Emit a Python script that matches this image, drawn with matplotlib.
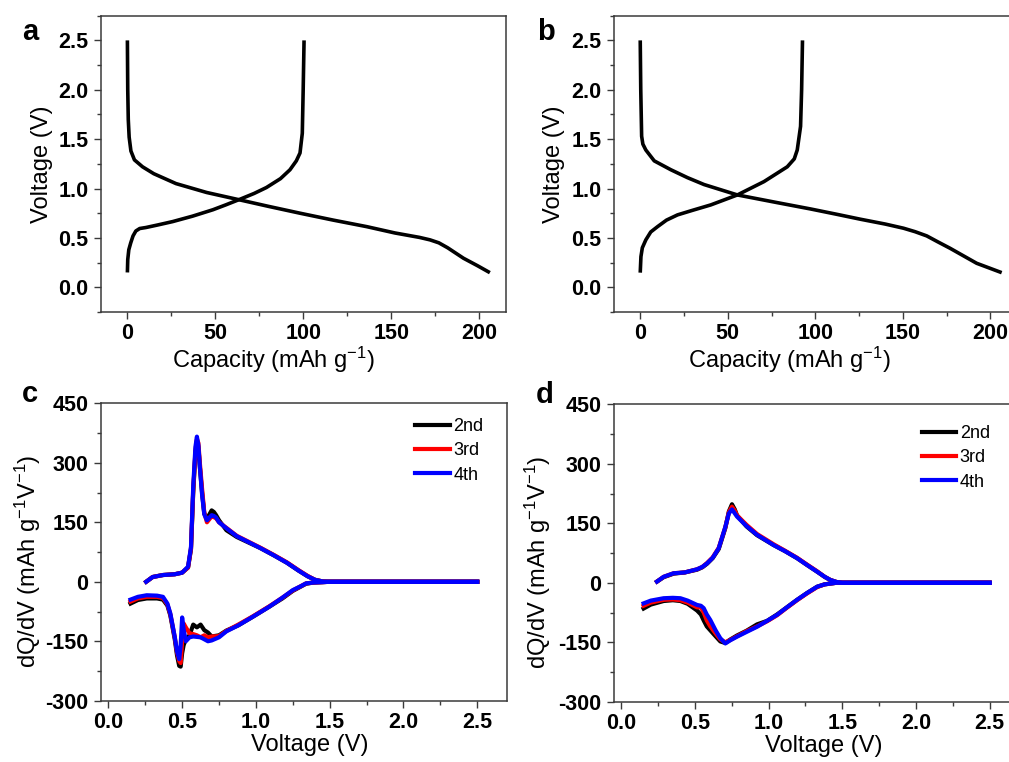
import matplotlib
matplotlib.use("Agg")
import matplotlib.pyplot as plt
from matplotlib.ticker import MultipleLocator

plt.rcParams['font.family'] = ['Liberation Sans', 'DejaVu Sans']
plt.rcParams['mathtext.fontset'] = 'custom'
plt.rcParams['mathtext.rm'] = 'Liberation Sans'
plt.rcParams['axes.unicode_minus'] = False

# --- panel a: charge / discharge profile ---
cap_a_dis = [0, 0.2, 0.5, 1.0, 2.0, 4.0, 8.6, 15, 27.6, 45, 63.8, 80, 98.1, 117, 136, 152, 166, 172, 177, 182, 191, 199, 206]
v_a_dis = [2.50, 2.0, 1.7, 1.52, 1.38, 1.29, 1.22, 1.15, 1.05, 0.96, 0.885, 0.82, 0.75, 0.68, 0.614, 0.55, 0.505, 0.48, 0.45, 0.40, 0.294, 0.218, 0.148]
cap_a_chg = [0, 0.2, 0.8, 1.9, 3.2, 4.8, 7, 10.5, 17, 25.7, 37, 48.6, 56, 63.8, 72, 79, 87, 92.4, 96, 98.1, 99.4, 99.9, 100.4]
v_a_chg = [0.15, 0.28, 0.38, 0.45, 0.52, 0.57, 0.595, 0.605, 0.63, 0.665, 0.72, 0.785, 0.835, 0.89, 0.95, 1.01, 1.10, 1.19, 1.28, 1.36, 1.56, 2.0, 2.5]

# --- panel b ---
cap_b_dis = [0, 0.3, 0.8, 1.5, 3.2, 8, 17.5, 27, 36.5, 55.5, 78.3, 97.3, 112, 125.8, 140, 150.4, 157, 163.7, 170, 177, 192.2, 206.5]
v_b_dis = [2.5, 2.0, 1.53, 1.45, 1.39, 1.28, 1.19, 1.11, 1.04, 0.935, 0.857, 0.793, 0.74, 0.689, 0.64, 0.598, 0.563, 0.52, 0.46, 0.395, 0.243, 0.148]
cap_b_chg = [0, 0.4, 1.2, 3.2, 6, 9.9, 15, 21.3, 30, 40.3, 55.5, 70.7, 84, 88, 89.7, 91.6, 92.2, 92.7]
v_b_chg = [0.148, 0.31, 0.40, 0.48, 0.56, 0.614, 0.68, 0.733, 0.78, 0.834, 0.935, 1.07, 1.22, 1.30, 1.39, 1.63, 2.0, 2.5]

cycles = ['2nd', '3rd', '4th']
cycle_colors = ['black', 'red', 'blue']

# --- panel c: dQ/dV ---
volt_c_chg = [0.256, 0.30, 0.37, 0.45, 0.50, 0.54, 0.56, 0.575, 0.59, 0.60, 0.61, 0.62, 0.635, 0.65, 0.668,
              0.685, 0.70, 0.715, 0.73, 0.75, 0.80, 0.87, 0.95, 1.03, 1.12, 1.21, 1.29, 1.35, 1.40, 1.45, 1.5, 2.0, 2.5]
dqdv_c_chg = {
    '2nd': [0, 12, 17, 19, 23, 36, 82, 225, 325, 355, 340, 290, 225, 172, 160, 170, 180, 176, 168, 155, 130,
            113, 99, 85, 67, 48, 28, 14, 5, 1, 0, 0, 0],
    '3rd': [0, 12, 17, 19, 23, 36, 84, 230, 330, 360, 350, 300, 235, 175, 150, 158, 165, 163, 160, 150, 136,
            116, 101, 86, 68, 49, 29, 15, 5, 1, 0, 0, 0],
    '4th': [0, 12, 17, 19, 23, 38, 88, 240, 340, 366, 345, 290, 220, 170, 155, 162, 168, 166, 162, 150, 135,
            115, 100, 85, 67, 48, 28, 14, 5, 1, 0, 0, 0],
}
volt_c_dis = [0.15, 0.2, 0.26, 0.33, 0.37, 0.40, 0.42, 0.45, 0.465, 0.48, 0.49, 0.50, 0.51, 0.525, 0.55, 0.575,
              0.60, 0.625, 0.65, 0.675, 0.70, 0.75, 0.80, 0.88, 0.98, 1.09, 1.18, 1.25, 1.30, 1.34, 1.39, 1.45, 1.5, 2.0, 2.5]
dqdv_c_dis = {
    '2nd': [-55, -46, -42, -42, -45, -60, -85, -145, -185, -212, -214, -180, -160, -145, -135, -108, -115, -108,
            -122, -128, -138, -135, -123, -110, -88, -63, -42, -23, -13, -5, -2, -1, 0, 0, 0],
    '3rd': [-50, -42, -38, -38, -41, -57, -82, -140, -178, -200, -205, -150, -105, -115, -130, -132, -135, -140,
            -135, -140, -138, -137, -124, -108, -87, -62, -40, -22, -12, -4, -2, -1, 0, 0, 0],
    '4th': [-45, -38, -34, -35, -38, -55, -80, -139, -175, -195, -160, -90, -120, -150, -140, -138, -139, -140,
            -145, -150, -148, -140, -125, -110, -88, -63, -40, -21, -12, -4, -2, -1, 0, 0, 0],
}

# --- panel d ---
volt_d_chg = [0.242, 0.287, 0.355, 0.43, 0.514, 0.55, 0.582, 0.62, 0.661, 0.706, 0.73, 0.751, 0.77, 0.785, 0.85,
              0.921, 1.034, 1.11, 1.193, 1.26, 1.329, 1.38, 1.419, 1.46, 1.5, 2.0, 2.5]
dqdv_d_chg = {
    '2nd': [3, 14, 23, 26, 33, 39, 48, 62, 85, 138, 180, 198, 185, 170, 142, 120, 95, 80, 62, 45, 28, 15, 7, 2, 0, 0, 0],
    '3rd': [3, 15, 24, 26, 34, 40, 50, 64, 88, 140, 178, 192, 182, 170, 146, 123, 97, 81, 63, 46, 29, 15, 7, 2, 0, 0, 0],
    '4th': [3, 15, 24, 26, 34, 40, 49, 63, 87, 141, 175, 185, 175, 167, 143, 121, 95, 80, 62, 45, 28, 15, 7, 2, 0, 0, 0],
}
volt_d_dis = [0.151, 0.2, 0.287, 0.35, 0.401, 0.45, 0.514, 0.54, 0.559, 0.58, 0.604, 0.64, 0.672, 0.706, 0.74, 0.785,
              0.85, 0.921, 0.99, 1.057, 1.12, 1.193, 1.26, 1.329, 1.38, 1.42, 1.46, 1.5, 2.0, 2.5]
dqdv_d_dis = {
    '2nd': [-65, -55, -46, -44, -46, -53, -70, -80, -95, -110, -120, -135, -148, -152, -143, -133, -121, -105, -96,
            -80, -63, -43, -26, -10, -4, -2, 0, 0, 0, 0],
    '3rd': [-58, -50, -43, -42, -44, -50, -62, -62, -75, -95, -110, -128, -143, -150, -144, -135, -122, -110, -97,
            -82, -64, -44, -27, -11, -4, -2, 0, 0, 0, 0],
    '4th': [-52, -45, -39, -38, -39, -45, -56, -58, -64, -80, -94, -120, -140, -153, -145, -136, -124, -111, -96,
            -81, -63, -43, -26, -10, -4, -2, 0, 0, 0, 0],
}

SPINE = '#3a3a3a'
TICK_FS = 15.5
LABEL_FS = 17


def style_axes(ax):
    for s in ax.spines.values():
        s.set_color(SPINE)
        s.set_linewidth(1.1)
    ax.tick_params(which='both', direction='out', top=False, right=False, color=SPINE, width=1.0)
    ax.tick_params(which='major', length=5)
    ax.tick_params(which='minor', length=3)
    ax.tick_params(axis='x', pad=3)
    ax.tick_params(axis='y', pad=4)
    for lab in ax.get_xticklabels() + ax.get_yticklabels():
        lab.set_fontsize(TICK_FS)
        lab.set_fontweight('bold')


def profile_panel(ax, cap_d, v_d, cap_c, v_c):
    ax.plot(cap_d, v_d, color='black', lw=2.6, solid_capstyle='butt', solid_joinstyle='round')
    ax.plot(cap_c, v_c, color='black', lw=2.6, solid_capstyle='butt', solid_joinstyle='round')
    ax.set_xlim(-15, 215)
    ax.set_ylim(-0.25, 2.75)
    ax.xaxis.set_major_locator(MultipleLocator(50))
    ax.xaxis.set_minor_locator(MultipleLocator(25))
    ax.yaxis.set_major_locator(MultipleLocator(0.5))
    ax.yaxis.set_minor_locator(MultipleLocator(0.25))
    ax.set_yticks([0.0, 0.5, 1.0, 1.5, 2.0, 2.5])
    ax.set_yticklabels(['0.0', '0.5', '1.0', '1.5', '2.0', '2.5'])
    ax.set_xlabel('Capacity (mAh g$\\mathregular{^{-1}}$)', fontsize=LABEL_FS)
    ax.set_ylabel('Voltage (V)', fontsize=LABEL_FS)
    style_axes(ax)


def dqdv_panel(ax, v_chg, chg, v_dis, dis, leg_anchor):
    for name, col in zip(cycles, cycle_colors):
        ax.plot(v_dis, dis[name], color=col, lw=3.0, label=name, solid_joinstyle='round')
        ax.plot(v_chg, chg[name], color=col, lw=3.0, solid_joinstyle='round')
    ax.set_xlim(-0.05, 2.7)
    ax.set_ylim(-300, 450)
    ax.xaxis.set_major_locator(MultipleLocator(0.5))
    ax.xaxis.set_minor_locator(MultipleLocator(0.25))
    ax.yaxis.set_major_locator(MultipleLocator(150))
    ax.yaxis.set_minor_locator(MultipleLocator(75))
    ax.set_xticks([0.0, 0.5, 1.0, 1.5, 2.0, 2.5])
    ax.set_xticklabels(['0.0', '0.5', '1.0', '1.5', '2.0', '2.5'])
    ax.set_xlabel('Voltage (V)', fontsize=LABEL_FS)
    ax.set_ylabel('dQ/dV (mAh g$\\mathregular{^{-1}}$V$\\mathregular{^{-1}}$)', fontsize=LABEL_FS)
    ax.legend(loc='upper left', bbox_to_anchor=leg_anchor, frameon=False, fontsize=13,
              handlelength=1.9, handletextpad=0.2, labelspacing=0.4, borderpad=0, borderaxespad=0)
    style_axes(ax)


fig = plt.figure(figsize=(10.09, 7.62), dpi=100)

ax_a = fig.add_axes([0.1001, 0.5906, 0.4011, 0.3888])
ax_b = fig.add_axes([0.6085, 0.5906, 0.3990, 0.3888])
ax_c = fig.add_axes([0.1001, 0.0804, 0.4021, 0.3903])
ax_d = fig.add_axes([0.6085, 0.0791, 0.4015, 0.3903])

profile_panel(ax_a, cap_a_dis, v_a_dis, cap_a_chg, v_a_chg)
profile_panel(ax_b, cap_b_dis, v_b_dis, cap_b_chg, v_b_chg)
dqdv_panel(ax_c, volt_c_chg, dqdv_c_chg, volt_c_dis, dqdv_c_dis, (0.775, 0.95))
dqdv_panel(ax_d, volt_d_chg, dqdv_d_chg, volt_d_dis, dqdv_d_dis, (0.76, 0.93))

ax_a.yaxis.set_label_coords(-0.119, 0.5)
ax_b.yaxis.set_label_coords(-0.122, 0.5)
ax_c.yaxis.set_label_coords(-0.142, 0.47)
ax_d.yaxis.set_label_coords(-0.150, 0.47)
ax_a.xaxis.set_label_coords(0.425, -0.112)
ax_b.xaxis.set_label_coords(0.437, -0.112)
ax_c.xaxis.set_label_coords(0.515, -0.113)
ax_d.xaxis.set_label_coords(0.519, -0.113)

for letter, x, y in [('a', 0.0297, 0.9475), ('b', 0.541, 0.9475), ('c', 0.0297, 0.4724), ('d', 0.540, 0.471)]:
    fig.text(x, y, letter, fontsize=21, fontweight='bold', ha='center', va='baseline')

fig.savefig('out.png', dpi=100)
